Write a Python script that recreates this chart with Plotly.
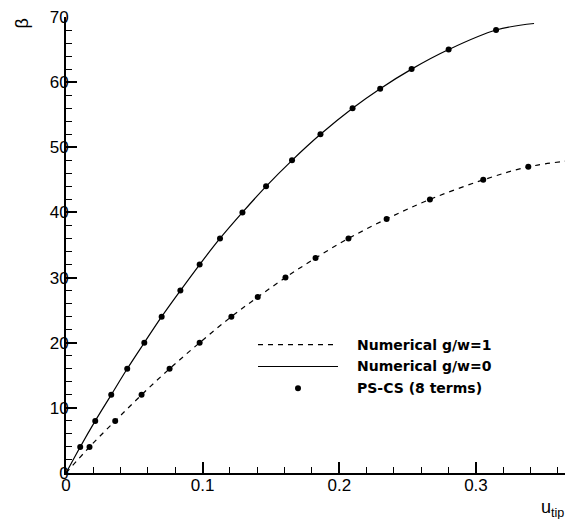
import plotly.graph_objects as go

# PS-CS (8 terms) points, g/w = 0
ps0_x = [0.0104, 0.0214, 0.0331, 0.0448, 0.0573, 0.0700, 0.0837, 0.0978, 0.1127,
         0.1291, 0.1464, 0.1654, 0.1862, 0.2097, 0.2299, 0.2529, 0.2800, 0.3147]
ps0_y = [4, 8, 12, 16, 20, 24, 28, 32, 36, 40, 44, 48, 52, 56, 59, 62, 65, 68]

# PS-CS (8 terms) points, g/w = 1
ps1_x = [0.0172, 0.0360, 0.0553, 0.0758, 0.0978, 0.1210, 0.1403, 0.1606, 0.1826,
         0.2067, 0.2346, 0.2663, 0.3053, 0.3383]
ps1_y = [4, 8, 12, 16, 20, 24, 27, 30, 33, 36, 39, 42, 45, 47]

# Numerical curves
num0_x = [0.0, 0.0104, 0.0214, 0.0331, 0.0448, 0.0573, 0.0700, 0.0837, 0.0978, 0.1127,
          0.1291, 0.1464, 0.1654, 0.1862, 0.2097, 0.2299, 0.2529, 0.2800, 0.3147, 0.3425]
num0_y = [0, 4, 8, 12, 16, 20, 24, 28, 32, 36, 40, 44, 48, 52, 56, 59, 62, 65, 68, 69.0]

num1_x = [0.0, 0.0172, 0.0360, 0.0553, 0.0758, 0.0978, 0.1210, 0.1403, 0.1606, 0.1826,
          0.2067, 0.2346, 0.2663, 0.3053, 0.3383, 0.3710]
num1_y = [0, 4, 8, 12, 16, 20, 24, 27, 30, 33, 36, 39, 42, 45, 47, 48.0]

x_ticks = [0, 0.1, 0.2, 0.3]
x_labels = ["0", "0.1", "0.2", "0.3"]
y_ticks = [0, 10, 20, 30, 40, 50, 60, 70]

legend_names = ["Numerical g/w=1", "Numerical g/w=0", "PS-CS (8 terms)"]

FONT = "Liberation Sans, Arial, sans-serif"

fig = go.Figure()
fig.add_trace(go.Scatter(x=num1_x, y=num1_y, mode="lines", line=dict(color="black", width=1.2, dash="5px,5px", shape="spline"),
                         name=legend_names[0], showlegend=False))
fig.add_trace(go.Scatter(x=num0_x, y=num0_y, mode="lines", line=dict(color="black", width=1.2, shape="spline"),
                         name=legend_names[1], showlegend=False))
fig.add_trace(go.Scatter(x=ps0_x + ps1_x, y=ps0_y + ps1_y, mode="markers",
                         marker=dict(color="black", size=6), name=legend_names[2], showlegend=False))

# manual legend
rows = [0.2817, 0.2336, 0.1856]
x0, x1, xd, xt = 0.3787, 0.5365, 0.4576, 0.570
shapes = [
    dict(type="line", xref="paper", yref="paper", x0=x0, x1=x1, y0=rows[0], y1=rows[0],
         line=dict(color="black", width=1.2, dash="5px,5px")),
    dict(type="line", xref="paper", yref="paper", x0=x0, x1=x1, y0=rows[1], y1=rows[1],
         line=dict(color="black", width=1.2)),
    dict(type="circle", xref="paper", yref="paper", xsizemode="pixel", ysizemode="pixel",
         xanchor=xd, yanchor=rows[2], x0=-3, x1=3, y0=-3, y1=3,
         fillcolor="black", line=dict(color="black", width=0)),
]
annotations = []
for name, ry in zip(legend_names, rows):
    annotations.append(dict(text="<b>" + name + "</b>", xref="paper", yref="paper", x=xt, y=ry,
                            xanchor="left", yanchor="middle", showarrow=False,
                            font=dict(family="DejaVu Sans", size=14, color="black")))
annotations.append(dict(text="β", xref="paper", yref="paper", x=-0.0874, y=0.985, textangle=-90,
                        xanchor="center", yanchor="middle", showarrow=False,
                        font=dict(family=FONT, size=18, color="black")))
annotations.append(dict(text="u<sub>tip</sub>", xref="paper", yref="paper", x=0.96, y=-0.048,
                        xanchor="center", yanchor="top", showarrow=False,
                        font=dict(family=FONT, size=18, color="black")))

# the page body has an 8px default margin; compensate so the plot area lands where the reference has it
fig.update_layout(
    width=565, height=511,
    margin=dict(l=58, r=0, t=7, b=46),
    paper_bgcolor="white", plot_bgcolor="white",
    font=dict(family=FONT, size=17, color="black"),
    shapes=shapes, annotations=annotations,
    showlegend=False,
)
fig.update_xaxes(range=[0, 0.371], tickvals=x_ticks, ticktext=x_labels, ticks="inside", ticklen=11, tickwidth=2,
                 tickcolor="black", showline=True, linewidth=2, linecolor="black", showgrid=False, zeroline=False,
                 minor=dict(ticks="inside", ticklen=6, tickwidth=1, tickcolor="black", dtick=0.02, tick0=0, showgrid=False),
                 tickfont=dict(size=17), ticklabelstandoff=-4, ticklabeloverflow="allow", fixedrange=True)
fig.update_yaxes(range=[0, 70], tickvals=y_ticks, ticks="inside", ticklen=11, tickwidth=2,
                 tickcolor="black", showline=True, linewidth=2, linecolor="black", showgrid=False, zeroline=False,
                 minor=dict(ticks="inside", ticklen=6, tickwidth=1, tickcolor="black", dtick=2, tick0=0, showgrid=False),
                 tickfont=dict(size=17), ticklabelstandoff=-8, ticklabeloverflow="allow", fixedrange=True)

fig.write_html("out.html", config=dict(displayModeBar=False))
